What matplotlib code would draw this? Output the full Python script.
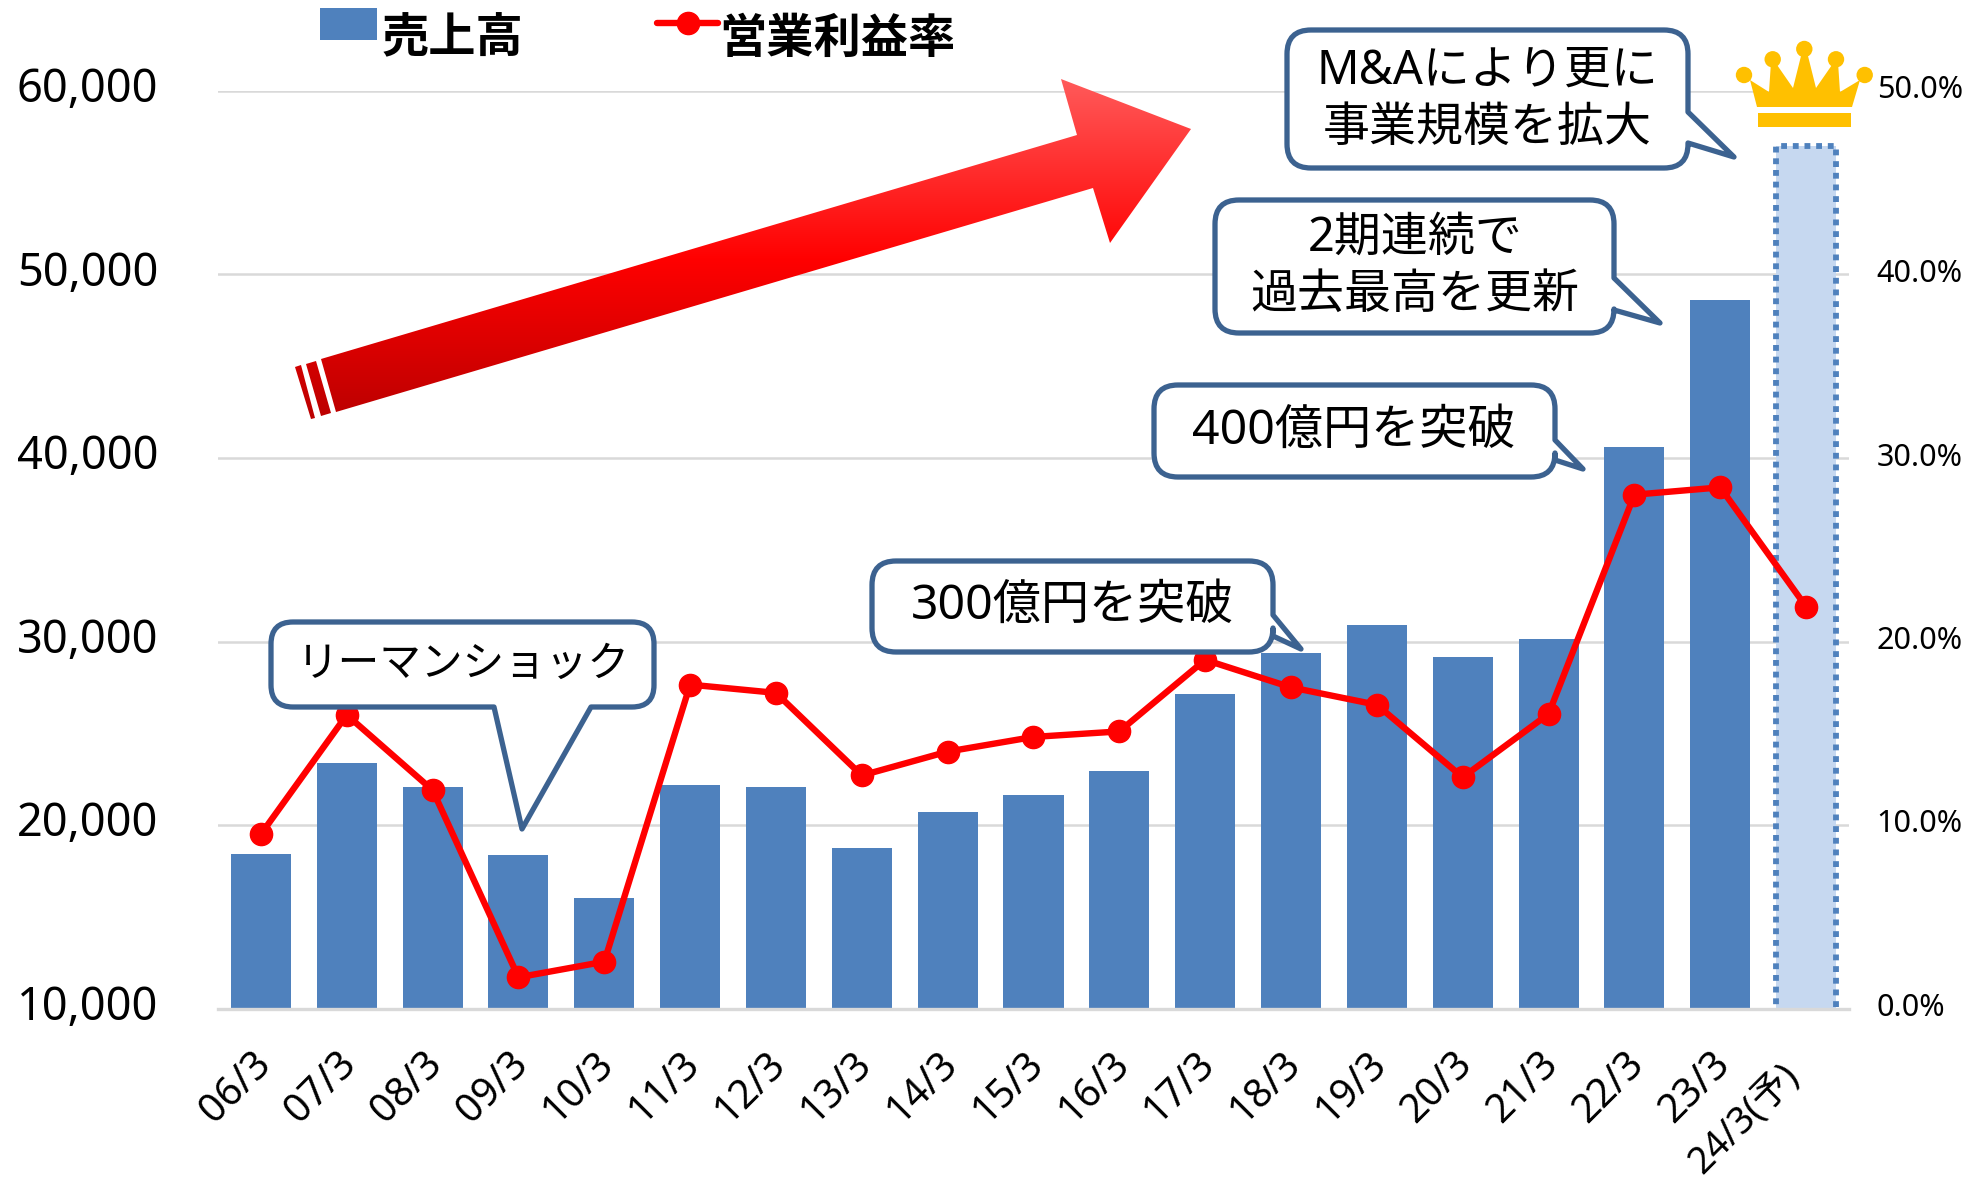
import matplotlib
matplotlib.use('Agg')
import matplotlib.pyplot as plt
import numpy as np
from matplotlib.colors import LinearSegmentedColormap
from matplotlib.patches import Circle, PathPatch, Polygon, Rectangle
from matplotlib.path import Path
from matplotlib.transforms import ScaledTranslation

FONTS = ['Noto Sans', 'Noto Sans CJK JP']
plt.rcParams['font.family'] = FONTS

labels = ['06/3', '07/3', '08/3', '09/3', '10/3', '11/3', '12/3', '13/3', '14/3', '15/3',
          '16/3', '17/3', '18/3', '19/3', '20/3', '21/3', '22/3', '23/3', '24/3(予)']
sales = [18400, 23400, 22050, 18350, 16000, 22200, 22050, 18750, 20700, 21650,
         22950, 27150, 29400, 30900, 29150, 30150, 40600, 48600, 57000]
margin = [9.5, 16.0, 11.9, 1.7, 2.55, 17.65, 17.2, 12.7, 14.0, 14.8,
          15.1, 19.0, 17.5, 16.55, 12.6, 16.05, 28.0, 28.4, 21.9]
sales_ticks = [10000, 20000, 30000, 40000, 50000, 60000]
margin_ticks = [0, 10, 20, 30, 40, 50]

BLUE = '#4f81bd'
LIGHT = '#c6d8f0'
EDGE = '#3c6290'
GOLD = '#ffc000'
GRID = '#d9d9d9'
W, H = 1984, 1181

fig = plt.figure(figsize=(W / 100, H / 100), dpi=100)
ax = fig.add_axes([218 / W, 1 - 1008.5 / H, (1849 - 218) / W, (1008.5 - 91) / H])
x = np.arange(len(labels))


def nudge(label, dx, dy):
    # shift a tick label by image pixels (y up)
    label.set_transform(label.get_transform() + ScaledTranslation(dx / 100, dy / 100, fig.dpi_scale_trans))


ax.bar(x[:-1], sales[:-1], width=0.7, color=BLUE, zorder=2)
ax.bar(x[-1], sales[-1], width=0.7, facecolor=LIGHT, edgecolor=BLUE, linewidth=4.2,
       linestyle=(0, (1, 1)), zorder=2)
ax.set_xlim(-0.5, len(labels) - 0.5)
ax.set_ylim(10000, 60000)
ax.set_yticks(sales_ticks)
ax.set_yticklabels([f'{v:,}' for v in sales_ticks], fontsize=32.5, color='black')
ax.yaxis.grid(True, color=GRID, linewidth=1.8, zorder=0)
ax.set_axisbelow(True)
ax.tick_params(axis='y', length=0, pad=43)
ax.tick_params(axis='x', length=0, pad=26)
ax.set_xticks(x)
ax.set_xticklabels(labels, fontsize=28.5, rotation=45, ha='right', va='top', rotation_mode='anchor')
for s in ['top', 'left', 'right']:
    ax.spines[s].set_visible(False)
ax.spines['bottom'].set_color(GRID)
ax.spines['bottom'].set_linewidth(2.4)
for lab in ax.get_yticklabels():
    nudge(lab, 0, 6)
for lab in ax.get_xticklabels()[:-1]:
    nudge(lab, -10, 0)
ax.get_xticklabels()[-1].set_fontsize(27)
nudge(ax.get_xticklabels()[-1], -26, -12)

ax2 = ax.twinx()
ax2.plot(x, margin, color='#ff0000', linewidth=4.6, marker='o', markersize=16, zorder=5)
ax2.set_ylim(0, 50)
ax2.set_yticks(margin_ticks)
ax2.set_yticklabels([f'{v:.1f}%' for v in margin_ticks], fontsize=22)
ax2.tick_params(axis='y', length=0, pad=20)
for s in ax2.spines.values():
    s.set_visible(False)
for lab in ax2.get_yticklabels():
    nudge(lab, 0, 4)

# everything below is placed in image pixels
over = fig.add_axes([0, 0, 1, 1], zorder=10)
over.patch.set_alpha(0)
over.axis('off')


def rounded_path(points):
    # points are (x, y, radius), radius 0 leaves a sharp corner
    verts, codes = [], []
    n = len(points)
    for i, (px, py, r) in enumerate(points):
        if r == 0:
            verts.append((px, py))
            codes.append(Path.MOVETO if i == 0 else Path.LINETO)
            continue
        p = np.array([px, py], dtype=float)
        a = np.array(points[i - 1][:2], dtype=float)
        b = np.array(points[(i + 1) % n][:2], dtype=float)
        p1 = p + (a - p) / np.linalg.norm(a - p) * r
        p2 = p + (b - p) / np.linalg.norm(b - p) * r
        verts += [tuple(p1), (px, py), tuple(p2)]
        codes += [Path.MOVETO if i == 0 else Path.LINETO, Path.CURVE3, Path.CURVE3]
    verts.append(verts[0])
    codes.append(Path.CLOSEPOLY)
    return Path(verts, codes)


def callout(points, lines):
    over.add_patch(PathPatch(rounded_path(points), facecolor='white', edgecolor=EDGE,
                             linewidth=3.8, joinstyle='round'))
    for tx, ty, s, size in lines:
        over.text(tx, ty, s, fontsize=size, ha='center', va='center', color='black', family=FONTS)


def right_tail_box(x0, y0, x1, y1, t0, tipx, tipy, t1, r=24):
    return [(x0, y0, r), (x1, y0, r), (x1, t0, 0), (tipx, tipy, 0), (x1, t1, 0), (x1, y1, r), (x0, y1, r)]


callout([(271, 622, 22), (654, 622, 22), (654, 707, 22), (591, 707, 0), (522, 829, 0), (494, 707, 0), (271, 707, 22)],
        [(463, 665, 'リーマンショック', 30)])
callout(right_tail_box(872, 561, 1273, 652, 615, 1301, 649, 636),
        [(1073, 606, '300億円を突破', 34.7)])
callout(right_tail_box(1154, 385, 1555, 477, 440, 1583, 469, 460),
        [(1354, 431, '400億円を突破', 34.7)])
callout(right_tail_box(1215, 200, 1614, 333, 278, 1660, 323, 310),
        [(1415, 238, '2期連続で', 33.8), (1415, 295, '過去最高を更新', 33.8)])
callout(right_tail_box(1287, 30, 1688, 168, 112, 1734, 157, 143),
        [(1487, 71, 'M&Aにより更に', 33.8), (1487, 128, '事業規模を拡大', 33.8)])

# big arrow with gradient
arrow_pts = [(321, 359), (1077, 135), (1061, 79), (1191, 129), (1110, 243), (1093, 188), (336, 412)]
stripes = [[(306, 364), (316, 361), (331, 413), (321, 416)],
           [(295, 367), (301, 365), (315, 418), (311, 419)]]
cmap = LinearSegmentedColormap.from_list('arrow', [(0, '#ff5a5a'), (0.53, '#ff0000'), (1, '#bb0000')])
grad = np.linspace(0, 1, 256).reshape(-1, 1)
for pts in [arrow_pts] + stripes:
    clip = Polygon(pts, closed=True, facecolor='none', edgecolor='none', transform=over.transData)
    over.add_patch(clip)
    im = over.imshow(grad, cmap=cmap, extent=(280, 1200, 420, 79), aspect='auto', vmin=0, vmax=1)
    im.set_clip_path(clip)

# crown
over.add_patch(Polygon([(1750, 80), (1757, 107), (1852, 107), (1860, 80), (1840, 92), (1838, 62), (1834, 62),
                        (1816, 88), (1807, 52), (1802, 52), (1793, 88), (1775, 62), (1771, 62), (1769, 92)],
                       closed=True, color=GOLD, lw=0))
over.add_patch(Rectangle((1758, 113), 93, 14, color=GOLD, lw=0))
for cx, cy in [(1744, 75), (1772.7, 59.3), (1804.3, 49), (1836, 59.3), (1864.7, 75)]:
    over.add_patch(Circle((cx, cy), 8.2, color=GOLD, lw=0))

# legend
over.add_patch(Rectangle((320, 8), 57, 32, color=BLUE, lw=0))
over.text(382, 40, '売上高', fontsize=34, fontweight='bold', va='center', ha='left', family=FONTS)
over.plot([657, 718], [23, 23], color='#ff0000', linewidth=4.6, marker='', solid_capstyle='round')
over.plot([687.5], [23], color='#ff0000', marker='o', markersize=16)
over.text(719, 40, '営業利益率', fontsize=34, fontweight='bold', va='center', ha='left', family=FONTS)

over.set_xlim(0, W)
over.set_ylim(H, 0)

fig.savefig('out.png', dpi=100, facecolor='white')
